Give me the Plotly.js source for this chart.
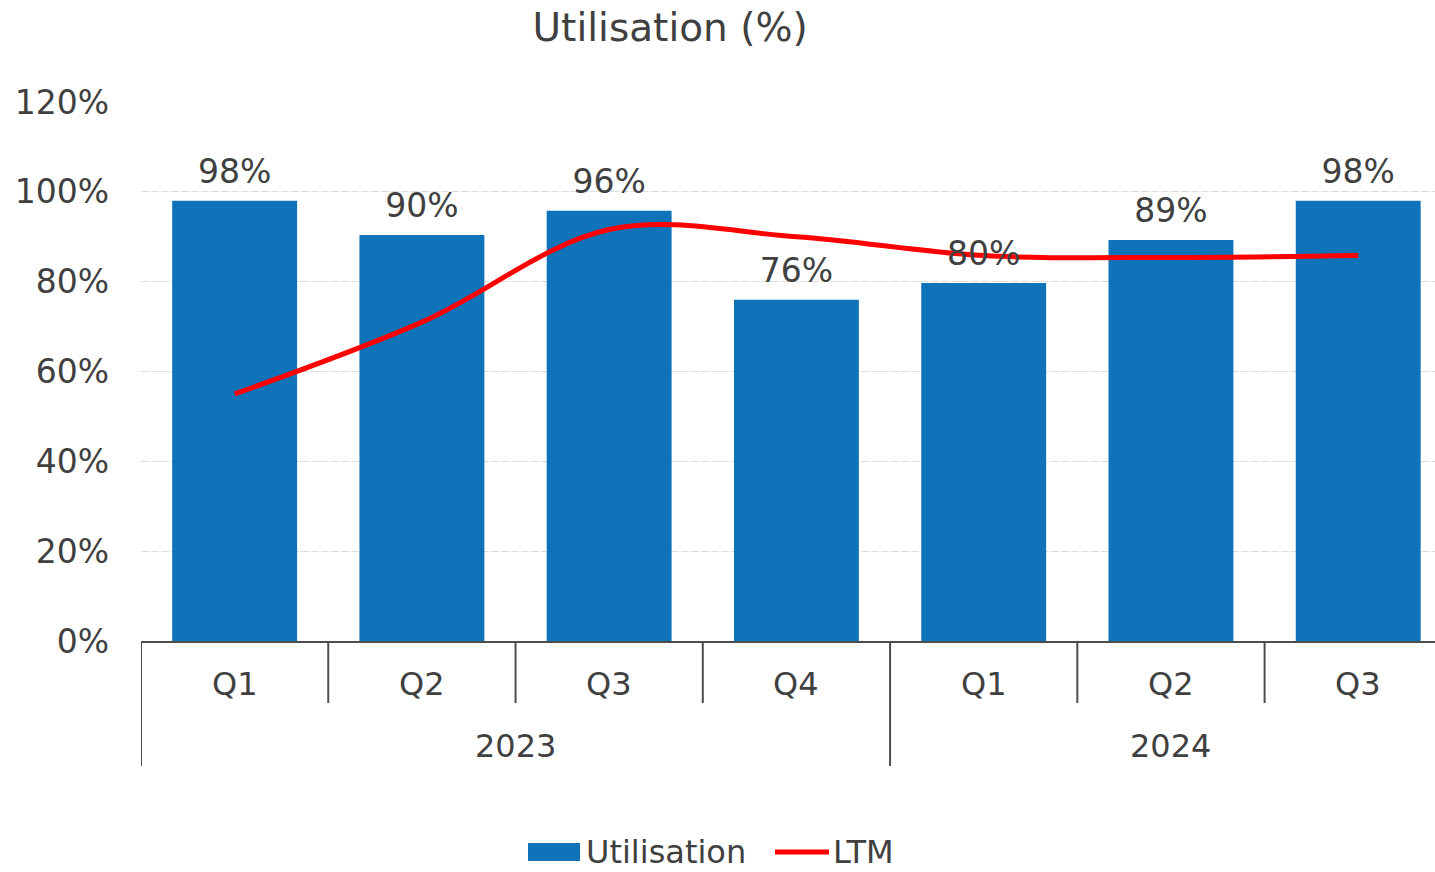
<!DOCTYPE html>
<html>
<head>
<meta charset="utf-8">
<script src="https://cdn.plot.ly/plotly-3.0.1.min.js"></script>
<style>html,body{margin:0;padding:0;background:#fff;}#chart{width:1435px;height:872px;}</style>
</head>
<body>
<div id="chart"></div>
<script>
const years = ["2023","2023","2023","2023","2024","2024","2024"];
const quarters = ["Q1","Q2","Q3","Q4","Q1","Q2","Q3"];
const utilisation = [98, 90.4, 95.8, 76, 79.7, 89.3, 98];
const ltm = [55, 71, 91.6, 90, 85.8, 85.4, 85.8];
const seriesNames = ["Utilisation", "LTM"];

const FONT = "DejaVu Sans, Verdana, sans-serif";
const TXT = "#404040";
const BLUE = "#0F73B9";
const RED = "#FF0000";
const AXC = "#4D4D4D";

const x = [years, quarters];

const traces = [
  {
    type: "bar", name: seriesNames[0], x: x, y: utilisation,
    marker: {color: BLUE}, hoverinfo: "skip"
  },
  {
    type: "scatter", mode: "lines", name: seriesNames[1], x: x, y: ltm,
    line: {color: RED, width: 5, shape: "spline", smoothing: 1},
    hoverinfo: "skip"
  },
  {
    type: "scatter", mode: "markers+text", x: x, y: utilisation,
    text: utilisation.map(v => Math.round(v) + "%"), textposition: "top center",
    textfont: {family: FONT, size: 33, color: TXT},
    marker: {size: 14, opacity: 0}, hoverinfo: "skip", cliponaxis: false
  }
];

// plot area geometry (px) used to place decorations in paper units
const PL = 141, PW = 1294, PB = 641, PH = 539;
const px = v => (v - PL) / PW;
const py = v => (PB - v) / PH;

// separators: short between quarters, long at year boundaries
const shapes = [];
for (let i = 0; i < quarters.length; i++) {
  const longOne = i === 0 || years[i] !== years[i-1];
  shapes.push({
    type: "line", xref: "x", yref: "paper",
    x0: i - 0.5, x1: i - 0.5, y0: 0, y1: longOne ? py(766) : py(703),
    line: {color: AXC, width: 2}
  });
}

// axis labels as annotations
const annotations = [];
quarters.forEach((q, i) => {
  annotations.push({
    xref: "x", yref: "paper", x: i, y: py(684), yanchor: "middle", xanchor: "center",
    text: q, showarrow: false, font: {family: FONT, size: 32, color: TXT}
  });
});
const uniqYears = [...new Set(years)];
uniqYears.forEach(yr => {
  const idx = years.map((v, i) => v === yr ? i : -1).filter(i => i >= 0);
  const c = (idx[0] + idx[idx.length - 1]) / 2;
  annotations.push({
    xref: "x", yref: "paper", x: c, y: py(746), yanchor: "middle", xanchor: "center",
    text: yr, showarrow: false, font: {family: FONT, size: 32, color: TXT}
  });
});

// legend (drawn manually to get the wide bar swatch)
const LY = 852;
shapes.push({type: "rect", xref: "paper", yref: "paper",
  x0: px(528), x1: px(580), y0: py(LY + 9), y1: py(LY - 9),
  fillcolor: BLUE, line: {width: 0}});
shapes.push({type: "line", xref: "paper", yref: "paper",
  x0: px(775), x1: px(829), y0: py(LY), y1: py(LY),
  line: {color: RED, width: 5}});
annotations.push({xref: "paper", yref: "paper", x: px(584), y: py(LY), xanchor: "left", yanchor: "middle",
  text: seriesNames[0], showarrow: false, font: {family: FONT, size: 32, color: TXT}});
annotations.push({xref: "paper", yref: "paper", x: px(831), y: py(LY), xanchor: "left", yanchor: "middle",
  text: seriesNames[1], showarrow: false, font: {family: FONT, size: 32, color: TXT}});

const layout = {
  width: 1435, height: 872,
  margin: {l: 141, r: 0, t: 102, b: 231},
  paper_bgcolor: "#fff", plot_bgcolor: "#fff",
  font: {family: FONT, color: TXT, size: 32},
  title: {text: "Utilisation (%)", x: 0.467, xref: "container", xanchor: "center",
          y: 0.969, yref: "container", yanchor: "middle",
          font: {family: FONT, size: 39, color: TXT}},
  bargap: 0.333,
  showlegend: false,
  xaxis: {type: "multicategory", showdividers: false, showline: true, linecolor: AXC, linewidth: 2,
          ticks: "", showgrid: false, showticklabels: false, zeroline: false,
          range: [-0.5, 6.41]},
  yaxis: {range: [0, 120], dtick: 20, ticksuffix: "%", showline: false, zeroline: false,
          gridcolor: "#DCDCDC", griddash: "8px,2px", gridwidth: 1,
          tickfont: {family: FONT, size: 33, color: TXT}, ticklabelstandoff: 31},
  shapes: shapes,
  annotations: annotations
};

Plotly.newPlot("chart", traces, layout, {displayModeBar: false, staticPlot: true});
</script>
</body>
</html>
